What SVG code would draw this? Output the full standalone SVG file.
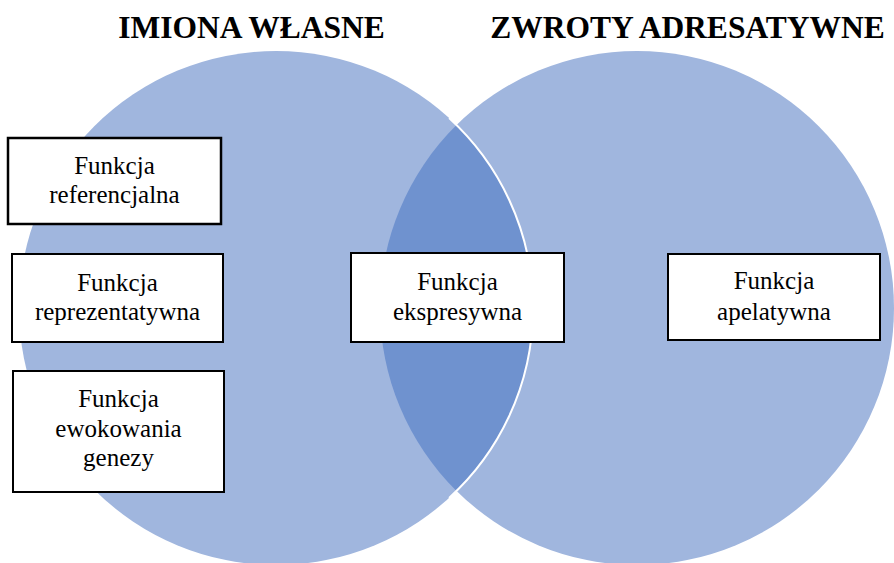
<svg xmlns="http://www.w3.org/2000/svg" width="894" height="563" viewBox="0 0 894 563">
  <style>
    .circle { fill: #A0B6DE; }
    .lens { fill: #6F92CF; }
    .edge { fill: none; stroke: #FFFFFF; stroke-width: 2; }
    .box { fill: #FFFFFF; stroke: #000000; stroke-width: 2; }
    .label { font-family: "Liberation Serif", "Times New Roman", serif; font-size: 25px; fill: #000000; text-anchor: middle; }
    .title { font-family: "Liberation Serif", "Times New Roman", serif; font-size: 31.5px; font-weight: bold; fill: #000000; text-anchor: middle; }
  </style>
  <rect x="0" y="0" width="894" height="563" fill="#FFFFFF"/>
  <g id="venn">
    <circle id="circle-right" class="circle" cx="637" cy="308" r="257"/>
    <circle id="circle-left" class="circle" cx="276" cy="308" r="257"/>
    <path id="overlap" class="lens" d="M 456.5 125.1 A 257 257 0 0 1 456.5 490.9 A 257 257 0 0 1 456.5 125.1 Z"/>
    <path class="edge" d="M 449.1 118 A 257 257 0 0 1 449.1 498"/>
  </g>
  <g id="titles">
    <text class="title" x="251.5" y="38">IMIONA WŁASNE</text>
    <text class="title" x="687.5" y="38">ZWROTY ADRESATYWNE</text>
  </g>
  <g id="connectors"/>
  <g id="node-referencjalna">
    <rect class="box" x="8" y="138" width="213" height="86" style="stroke-width:2.5"/>
    <text class="label" x="114.5" y="174">Funkcja</text>
    <text class="label" x="114.5" y="203">referencjalna</text>
  </g>
  <g id="node-reprezentatywna">
    <rect class="box" x="12" y="254" width="211" height="88"/>
    <text class="label" x="117.5" y="291">Funkcja</text>
    <text class="label" x="117.5" y="320">reprezentatywna</text>
  </g>
  <g id="node-ewokowania">
    <rect class="box" x="13" y="371" width="211" height="121"/>
    <text class="label" x="118.5" y="407">Funkcja</text>
    <text class="label" x="118.5" y="437">ewokowania</text>
    <text class="label" x="118.5" y="466">genezy</text>
  </g>
  <g id="node-ekspresywna">
    <rect class="box" x="351" y="253" width="213" height="89"/>
    <text class="label" x="457.5" y="290">Funkcja</text>
    <text class="label" x="457.5" y="320">ekspresywna</text>
  </g>
  <g id="node-apelatywna">
    <rect class="box" x="668" y="254" width="212" height="86"/>
    <text class="label" x="774" y="289">Funkcja</text>
    <text class="label" x="774" y="320">apelatywna</text>
  </g>
</svg>
